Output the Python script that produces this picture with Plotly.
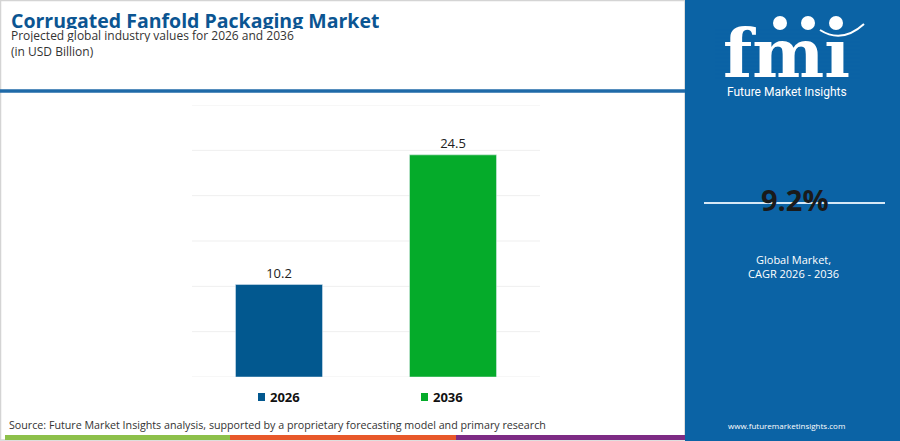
import plotly.graph_objects as go

# data
years = ["2026", "2036"]
values = [10.2, 24.5]
bar_colors = ["#02588f", "#05ab2a"]
y_ticks = [0, 5, 10, 15, 20, 25, 30]
cagr = "9.2%"

W, H = 900, 441
L, R, T, B = 192, 360, 105, 64
PW, PH = W - L - R, H - T - B
PANEL = "#0b63a5"


def px(x):
    return (x - L) / PW


def py(y):
    return (H - B - y) / PH


fig = go.Figure()
for yr, v, c in zip(years, values, bar_colors):
    fig.add_trace(go.Bar(
        x=[yr], y=[v], marker_color=c, width=0.5,
        text=[f"{v}"], textposition="outside", cliponaxis=False,
        textfont=dict(size=13, color="#222222", family="Open Sans"),
        showlegend=False, hoverinfo="x+y",
    ))

shapes = []
annos = []

# light horizontal grid, including the 0 and 30 lines
for t in y_ticks:
    shapes.append(dict(type="line", xref="paper", yref="y", x0=0, x1=1, y0=t, y1=t,
                       line=dict(color="#efefef", width=1), layer="below"))

# header frame and blue rule
shapes.append(dict(type="rect", xref="paper", yref="paper",
                   x0=px(0.5), x1=px(685), y0=py(440), y1=py(0.5),
                   line=dict(color="#d4d4d4", width=1.5), layer="below"))
shapes.append(dict(type="line", xref="paper", yref="paper",
                   x0=px(0), x1=px(685), y0=py(91), y1=py(91),
                   line=dict(color="#1f6aa8", width=3.5)))

# right side panel
shapes.append(dict(type="rect", xref="paper", yref="paper",
                   x0=px(685), x1=px(900), y0=py(441), y1=py(0),
                   fillcolor=PANEL, line=dict(width=0), layer="below"))
shapes.append(dict(type="line", xref="paper", yref="paper",
                   x0=px(704), x1=px(885), y0=py(203), y1=py(203),
                   line=dict(color="#d6e8f6", width=2)))

# coloured strip at the bottom
for x0, x1, c in [(5, 230, "#8dc04a"), (230, 456, "#e8582a"), (456, 685, "#7d2b84")]:
    shapes.append(dict(type="rect", xref="paper", yref="paper",
                       x0=px(x0), x1=px(x1), y0=py(440), y1=py(435),
                       fillcolor=c, line=dict(width=0)))

# legend squares
for x0, c in [(258, bar_colors[0]), (421, bar_colors[1])]:
    shapes.append(dict(type="rect", xref="paper", yref="paper",
                       x0=px(x0), x1=px(x0 + 7), y0=py(401), y1=py(393),
                       fillcolor=c, line=dict(width=0)))
for x0, yr in [(268, years[0]), (431, years[1])]:
    annos.append(dict(text=f"<b>{yr}</b>", x=px(x0), y=py(397), xanchor="left",
                      yanchor="middle", font=dict(size=13, color="#111111", family="Open Sans")))

# logo
annos.append(dict(text="<b>fm\u0131</b>", x=px(786), y=py(53), xanchor="center", yanchor="middle",
                  height=64, font=dict(size=68, color="white", family="DejaVu Serif")))
for yy in range(30, 80, 4):
    shapes.append(dict(type="line", xref="paper", yref="paper",
                       x0=px(715), x1=px(860), y0=py(yy), y1=py(yy),
                       line=dict(color=PANEL, width=1.2)))
for cx in [780, 808, 836]:
    shapes.append(dict(type="circle", xref="paper", yref="paper",
                       x0=px(cx - 7), x1=px(cx + 7), y0=py(30), y1=py(16),
                       fillcolor="white", line=dict(width=0)))
shapes.append(dict(type="path", xref="paper", yref="paper",
                   path=f"M {px(820)},{py(30)} Q {px(842)},{py(44)} {px(864)},{py(24)}",
                   line=dict(color="white", width=2)))
annos.append(dict(text="Future Market Insights", x=px(787), y=py(92), xanchor="center",
                  yanchor="middle", font=dict(size=12, color="white", family="Roboto")))

# CAGR block
annos.append(dict(text=f"<b>{cagr}</b>", x=px(795), y=py(199), xanchor="center", yanchor="middle",
                  font=dict(size=29, color="#1a1a1a", family="Open Sans")))
annos.append(dict(text="Global Market,<br>CAGR 2026 - 2036", x=px(793), y=py(266), xanchor="center",
                  yanchor="middle", align="center",
                  font=dict(size=11, color="white", family="Open Sans")))
annos.append(dict(text="www.futuremarketinsights.com", x=px(786), y=py(425), xanchor="center",
                  yanchor="middle", font=dict(size=8, color="white", family="Open Sans")))

# titles and source
annos.append(dict(text="<b>Corrugated Fanfold Packaging Market</b>", x=px(9), y=py(20),
                  xanchor="left", yanchor="middle", height=18,
                  font=dict(size=19.5, color="#0b5592", family="Open Sans")))
annos.append(dict(text="Projected global industry values for 2026 and 2036", x=px(9), y=py(35),
                  xanchor="left", yanchor="middle", height=13,
                  font=dict(size=12, color="#333333", family="Open Sans")))
annos.append(dict(text="(in USD Billion)", x=px(9), y=py(51), xanchor="left", yanchor="middle",
                  font=dict(size=12, color="#333333", family="Open Sans")))
annos.append(dict(text="Source: Future Market Insights analysis, supported by a proprietary forecasting model and primary research",
                  x=px(7), y=py(425), xanchor="left", yanchor="middle",
                  font=dict(size=10.7, color="#333333", family="Open Sans")))

for a in annos:
    a.update(xref="paper", yref="paper", showarrow=False)

fig.update_layout(
    width=W, height=H,
    margin=dict(l=L, r=R, t=T, b=B),
    paper_bgcolor="white", plot_bgcolor="white",
    bargap=0.5,
    shapes=shapes, annotations=annos,
    xaxis=dict(showticklabels=False, showgrid=False, zeroline=False, showline=False,
               categoryorder="array", categoryarray=years),
    yaxis=dict(range=[0, 30], showticklabels=False, showgrid=False,
               zeroline=False, showline=False),
    font=dict(family="Open Sans"),
)

fig.write_html("out.html", config={"displayModeBar": False},
               post_script="document.body.style.margin='0';")
